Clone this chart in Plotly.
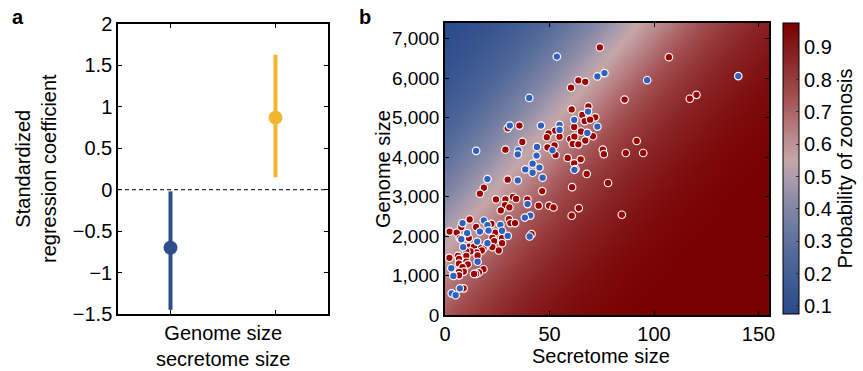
import numpy as np
import plotly.graph_objects as go

# ---- Panel a data ----
coef_labels = ["Genome size", "Secretome size"]
coef_pos = [1, 2]
coef_est = [-0.70, 0.87]
coef_lo = [-1.45, 0.15]
coef_hi = [-0.02, 1.63]
coef_colors = ["#2d4d8c", "#f2b630"]

# ---- Panel b data ----
zoo_x = [74.1,107.1,63.8,67.1,60.3,85.9,117.1,120.3,60.6,68.6,65.7,71.9,66.8,69.4,30,35.6,52.7,61.8,65.1,68.7,70.8,49.5,48.7,54.8,59.9,61.9,67.1,37,91.7,61.1,63.8,52.4,49,28.9,75.5,76,86.5,94.8,52.9,58.7,64.9,61.8,62.4,67.8,30,78,18.6,16.7,46.5,60.8,24.4,28.9,32.5,34,39.4,44.8,49.8,51.9,28.7,30.8,26.7,64,60.6,84.6,30.6,11.8,22.2,31.3,33.5,2.2,5.6,7.8,14.9,24,11.4,7.1,22.7,27.3,23.5,41.4,27.3,20.1,22.7,18.4,16.2,11.4,13.9,25.7,17.6,15.1,12.2,10.2,6.2,10.2,15.6,2.1,6.7,10.2,6.7,9.5,10.9,6.7,8.4,9,18.4,16.2,14.9,13.9,3.9,6.7,6.7,8.9]
zoo_y = [6780,6535,5945,5910,5760,5460,5480,5580,5210,5285,5070,5010,4915,4950,4730,4800,4675,4765,4650,4580,4530,4600,4505,4520,4460,4520,4420,4385,4410,4335,4325,4295,4250,4190,4190,4075,4105,4105,4055,3980,3945,3845,3700,3575,3430,3345,3225,3075,3140,3240,2930,2930,2990,2940,2930,2770,2770,2725,2785,2725,2650,2710,2515,2540,2430,2420,2310,2330,2330,2115,2090,2230,2230,2090,1950,1950,1955,1950,1870,2050,1820,1770,1720,1690,1720,1735,1735,1635,1635,1585,1610,1610,1500,1500,1510,1450,1420,1350,1300,1240,1285,1125,1215,1100,1160,1080,1040,1040,1015,1090,1005,675]
non_x = [53.5,76.3,72.9,96.7,140.3,40.3,14.9,31,45.9,54.8,61.8,68.4,72.9,68.1,44,35.1,34.8,43.8,51.4,54.8,61.9,38.4,41.9,45.2,41.9,20.3,46.7,34.8,39.5,40.8,38.2,8.4,18.6,26.5,20.3,10.6,16.7,20.8,27.3,30,7.8,15.4,40.5,20.3,8.7,15.6,3,4,7.1,3.2,5.1]
non_y = [6550,6130,6045,5950,6055,5500,4160,4800,4800,4820,4945,5155,4775,4615,4260,4175,4070,4040,4175,4690,3680,3690,3835,3735,3605,3445,3480,3410,2810,2520,2470,2330,2395,2285,2280,2075,2115,2140,2135,2005,1920,1860,1990,1820,1720,1350,1185,990,675,550,500]

# logistic model surface (intercept, secretome slope, genome slope)
model_a, model_b, model_c = 1.0, 0.029, -0.00047
x_range = [0, 155]
y_range = [0, 7400]
p_min, p_max = 0.075, 0.975
cb_ticks = [0.1, 0.2, 0.3, 0.4, 0.5, 0.6, 0.7, 0.8, 0.9]

gx = np.linspace(x_range[0], x_range[1], 90)
gy = np.linspace(y_range[0], y_range[1], 90)
GX, GY = np.meshgrid(gx, gy)
Z = 1.0 / (1.0 + np.exp(-(model_a + model_b * GX + model_c * GY)))

colorscale = [
    [0.0, "#2a4a8a"],
    [0.2, "#50689a"],
    [0.38, "#8789a6"],
    [0.47, "#ad9dad"],
    [0.53, "#c4a6a9"],
    [0.62, "#b98487"],
    [0.75, "#a24e50"],
    [0.88, "#8a2426"],
    [1.0, "#780000"],
]

W, H = 863, 371
def px_x(p): return p / W
def px_y(p): return 1 - p / H

FONT = "Liberation Sans, Arial, Helvetica, sans-serif"
FS = 20

fig = go.Figure()

# Panel a
for i in range(2):
    fig.add_trace(go.Scatter(
        x=[coef_pos[i], coef_pos[i]], y=[coef_lo[i], coef_hi[i]],
        mode="lines", line=dict(color=coef_colors[i], width=4),
        xaxis="x", yaxis="y", showlegend=False, hoverinfo="skip"))
    fig.add_trace(go.Scatter(
        x=[coef_pos[i]], y=[coef_est[i]], mode="markers",
        marker=dict(color=coef_colors[i], size=14),
        xaxis="x", yaxis="y", showlegend=False, name=coef_labels[i]))
fig.add_trace(go.Scatter(
    x=[0.5, 2.5], y=[0, 0], mode="lines",
    line=dict(color="black", width=1, dash="4px,3px"),
    xaxis="x", yaxis="y", showlegend=False, hoverinfo="skip"))

# Panel b
fig.add_trace(go.Heatmap(
    x=gx, y=gy, z=Z, zmin=p_min, zmax=p_max, zsmooth="best",
    colorscale=colorscale, xaxis="x2", yaxis="y2",
    colorbar=dict(
        x=px_x(783), xanchor="left", xpad=0, ypad=0,
        y=px_y(314), yanchor="bottom", len=(314 - 23) / H, lenmode="fraction",
        thickness=16, outlinewidth=1, outlinecolor="black",
        tickvals=cb_ticks, ticks="inside", ticklen=3, tickcolor="#333",
        tickfont=dict(size=FS, color="black", family=FONT),
        title=dict(text="Probability of zoonosis", side="right",
                   font=dict(size=FS, color="black", family=FONT)),
    )))
fig.add_trace(go.Scatter(
    x=zoo_x, y=zoo_y, mode="markers", name="Zoonotic",
    marker=dict(color="#9e0000", size=7.5, line=dict(color="white", width=1.2)),
    xaxis="x2", yaxis="y2", showlegend=False))
fig.add_trace(go.Scatter(
    x=non_x, y=non_y, mode="markers", name="Non-zoonotic",
    marker=dict(color="#2f5fbf", size=7.5, line=dict(color="white", width=1.2)),
    xaxis="x2", yaxis="y2", showlegend=False))

axis_common = dict(showline=True, linecolor="black", linewidth=1.5, mirror="ticks",
                   ticks="inside", ticklen=4, tickcolor="black", showgrid=False,
                   zeroline=False, automargin=False)
tf = dict(size=FS, color="black", family=FONT)

fig.update_layout(
    width=W, height=H, margin=dict(l=0, r=0, t=0, b=0, autoexpand=False),
    paper_bgcolor="white", plot_bgcolor="white",
    font=dict(family=FONT, color="black"),
    xaxis=dict(domain=[px_x(118), px_x(328)], range=[0.5, 2.5], tickfont=tf,
               tickvals=coef_pos, ticktext=["", ""], anchor="y", **axis_common),
    yaxis=dict(domain=[px_y(314), px_y(24)], range=[-1.5, 2], tickfont=tf,
               tickvals=[-1.5, -1, -0.5, 0, 0.5, 1, 1.5, 2], anchor="x", **axis_common),
    xaxis2=dict(domain=[px_x(445), px_x(769)], range=x_range, tickfont=tf,
                tickvals=[0, 50, 100, 150], anchor="y2", **axis_common),
    yaxis2=dict(domain=[px_y(315), px_y(23)], range=y_range,
                tickfont=dict(size=19, color="black", family=FONT),
                tickvals=[0, 1000, 2000, 3000, 4000, 5000, 6000, 7000],
                tickformat=",d", anchor="x2", **axis_common),
)

ann = [
    dict(text="<b>a</b>", x=px_x(10), y=px_y(17), xanchor="left", yanchor="middle", font=dict(size=FS)),
    dict(text="<b>b</b>", x=px_x(357), y=px_y(17), xanchor="left", yanchor="middle", font=dict(size=FS)),
    dict(text="Standardized<br>regression coefficient", x=px_x(36), y=px_y(169), textangle=-90,
         xanchor="center", yanchor="middle", font=dict(size=FS)),
    dict(text="Genome size<br>secretome size", x=px_x(223), y=px_y(346),
         xanchor="center", yanchor="middle", font=dict(size=FS)),
    dict(text="Genome size", x=px_x(383), y=px_y(169), textangle=-90,
         xanchor="center", yanchor="middle", font=dict(size=FS)),
    dict(text="Secretome size", x=px_x(601), y=px_y(356),
         xanchor="center", yanchor="middle", font=dict(size=FS)),
]
for a in ann:
    a.update(xref="paper", yref="paper", showarrow=False)
    a["font"] = dict(family=FONT, color="black", **a["font"])
fig.update_layout(annotations=ann)

fig.write_html("out.html", config={"displayModeBar": False},
               post_script="document.body.style.margin='0px';document.body.style.overflow='hidden';")
